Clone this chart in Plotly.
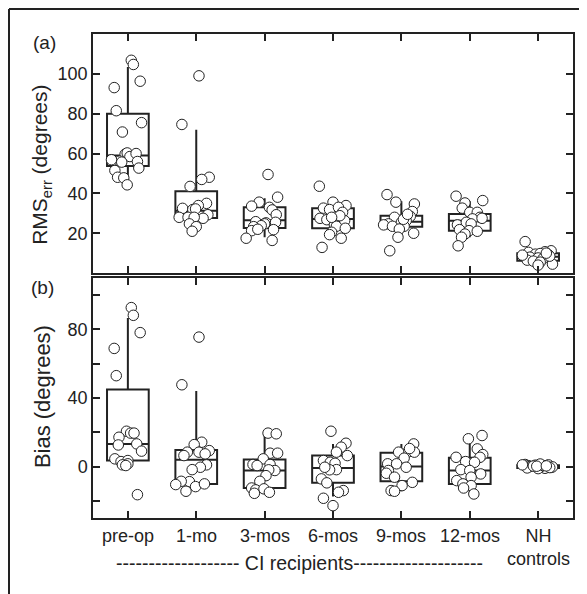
import plotly.graph_objects as go

# ---------------- data ----------------
categories = ["pre-op", "1-mo", "3-mos", "6-mos", "9-mos", "12-mos", "NH<br>controls"]

# RMS error box stats (degrees)
rms_lower = [44.0, 21.0, 18.0, 17.5, 18.0, 18.0, 4.0]
rms_q1 = [53.7, 27.7, 22.6, 22.5, 23.3, 21.3, 6.2]
rms_median = [59.0, 31.3, 26.5, 27.2, 25.8, 26.3, 8.2]
rms_q3 = [80.0, 41.1, 33.0, 32.6, 28.8, 29.7, 9.9]
rms_upper = [103.5, 72.0, 37.6, 36.0, 36.0, 36.0, 11.2]

# Bias box stats (degrees)
bias_lower = [0.6, -14.4, -15.6, -17.5, -14.4, -16.0, -2.0]
bias_q1 = [3.5, -10.1, -12.5, -9.5, -8.6, -10.1, -0.8]
bias_median = [13.2, 3.9, -2.3, -0.8, 0.0, -2.3, 0.0]
bias_q3 = [45.0, 9.7, 4.1, 6.4, 8.0, 5.1, 0.8]
bias_upper = [86.6, 44.0, 19.0, 13.2, 13.2, 16.2, 2.0]

# individual RMS values per group with horizontal jitter offsets (category units)
rms_points = [
    [106.8, 104.7, 96.3, 93.1, 81.5, 75.5, 70.8, 59.7, 60.3, 58.5, 60.0, 56.2, 55.7, 56.0, 52.7, 51.5, 48.1, 47.8, 44.3, 56.9],
    [99.0, 74.6, 48.1, 47.0, 43.5, 35.0, 33.9, 32.5, 31.9, 32.2, 29.3, 27.5, 28.0, 28.0, 28.0, 24.7, 23.3, 21.0],
    [49.5, 38.1, 35.6, 33.6, 33.0, 31.7, 29.3, 25.8, 25.2, 25.5, 24.7, 23.8, 23.3, 21.3, 21.8, 17.5, 16.4, 22.0],
    [43.6, 35.6, 33.9, 32.6, 31.9, 33.0, 30.5, 27.5, 26.8, 26.3, 24.2, 23.5, 22.5, 20.5, 19.3, 17.5, 12.9, 28.8, 28.0],
    [39.4, 35.6, 34.7, 30.9, 28.5, 28.0, 26.3, 25.5, 24.7, 24.2, 23.5, 23.5, 22.1, 20.0, 18.0, 11.2, 27.0, 29.5],
    [38.6, 35.2, 36.4, 32.6, 30.5, 30.5, 28.0, 27.2, 27.5, 24.2, 25.5, 24.7, 21.8, 21.3, 21.0, 19.6, 18.0, 13.7],
    [15.8, 10.4, 11.2, 10.7, 9.5, 9.8, 9.2, 8.0, 7.6, 7.2, 6.5, 6.0, 5.5, 4.5, 4.0, 8.5, 9.0, 10.0],
]
rms_jitter = [
    [0.05, 0.08, 0.18, -0.20, -0.17, 0.20, -0.08, -0.04, -0.01, 0.03, 0.12, -0.12, -0.09, 0.14, 0.16, -0.19, -0.15, -0.06, -0.01, -0.24],
    [0.04, -0.21, 0.19, 0.08, -0.09, 0.15, 0.03, -0.20, -0.05, -0.01, 0.17, 0.10, -0.25, -0.12, -0.03, -0.10, 0.00, -0.06],
    [0.05, 0.19, -0.08, -0.19, 0.07, 0.11, 0.17, -0.13, 0.02, 0.16, 0.00, -0.05, -0.16, -0.19, 0.13, -0.27, 0.11, -0.10],
    [-0.20, 0.00, 0.19, -0.14, -0.05, 0.08, 0.14, -0.19, -0.09, 0.17, 0.02, 0.05, 0.18, -0.02, -0.05, 0.12, -0.16, 0.10, -0.02],
    [-0.21, -0.08, 0.19, 0.16, 0.13, -0.10, 0.07, 0.00, -0.19, -0.26, -0.13, 0.04, -0.03, 0.18, -0.05, -0.17, 0.03, 0.09],
    [-0.20, -0.07, 0.19, -0.11, 0.00, 0.11, 0.15, 0.04, 0.18, -0.18, -0.05, 0.02, -0.15, -0.01, 0.11, -0.07, -0.12, -0.17],
    [-0.19, -0.14, 0.19, 0.10, -0.04, 0.03, 0.15, -0.12, 0.00, 0.07, -0.16, -0.07, 0.03, 0.21, 0.00, 0.17, -0.23, 0.12],
]

# individual Bias values per group with horizontal jitter offsets
bias_points = [
    [92.7, 88.2, 78.1, 68.9, 53.0, 20.6, 19.5, 19.5, 17.1, 13.2, 12.6, 9.0, 4.5, 2.9, 3.5, 1.6, 1.0, 0.6, -16.4],
    [75.5, 47.7, 14.2, 12.8, 9.3, 8.4, 8.4, 7.4, 6.4, 1.0, -0.4, -1.8, -8.8, -8.6, -11.7, -10.1, -10.5, -14.4],
    [19.5, 19.1, 7.8, 7.8, 4.5, 1.2, 0.6, 1.2, -2.3, -1.9, -5.3, -8.6, -12.5, -13.6, -13.0, -15.0, -15.6],
    [20.6, 13.6, 11.3, 6.4, 8.4, 3.5, 2.5, 1.9, -1.8, -1.9, -0.4, -7.2, -9.5, -14.0, -15.0, -18.5, -22.8],
    [13.2, 8.4, 8.4, 8.4, 4.9, 1.6, 1.6, -0.4, -2.3, -3.9, -6.2, -11.1, -9.2, -14.0, -14.4, 10.5],
    [18.1, 16.2, 10.3, 5.4, 7.0, 5.4, 2.9, 2.5, -1.8, -2.3, -4.3, -6.2, -8.2, -10.1, -11.1, -12.5, -16.0],
    [1.2, 0.5, -0.5, -1.0, 0.8, -0.3, 1.0, 0.0, -1.2, 0.6, -0.8, 0.3, 1.5, -0.2, 0.2, -0.6, 1.0, 0.4],
]
bias_jitter = [
    [0.05, 0.08, 0.18, -0.20, -0.17, -0.02, 0.04, 0.09, -0.13, 0.13, -0.14, 0.20, -0.19, -0.10, 0.00, 0.00, -0.08, -0.03, 0.14],
    [0.04, -0.21, 0.08, -0.03, 0.19, -0.13, 0.04, 0.13, -0.18, 0.15, 0.06, -0.06, -0.10, -0.22, -0.01, 0.12, -0.30, -0.15],
    [0.05, 0.17, 0.08, 0.19, -0.02, -0.17, -0.11, 0.08, 0.15, 0.06, 0.02, -0.07, -0.19, -0.13, -0.01, 0.07, -0.15],
    [-0.03, 0.19, 0.12, 0.21, 0.05, -0.14, -0.04, 0.03, 0.05, -0.05, -0.12, -0.17, -0.09, 0.15, 0.08, -0.14, 0.00],
    [0.18, 0.09, 0.19, -0.04, 0.04, -0.20, -0.07, 0.07, -0.19, -0.22, -0.10, 0.01, 0.16, -0.15, -0.10, 0.12],
    [0.18, -0.02, 0.11, -0.20, 0.19, 0.15, -0.06, 0.07, -0.13, 0.00, 0.16, 0.02, -0.19, -0.10, 0.02, -0.09, 0.06],
    [-0.19, -0.14, 0.19, 0.10, -0.04, 0.03, 0.15, -0.12, 0.00, 0.07, -0.16, -0.07, 0.03, 0.21, -0.02, 0.17, -0.23, 0.12],
]

rms_ticks = [20, 40, 60, 80, 100]
bias_ticks = [-20, 0, 20, 40, 60, 80, 100]
bias_ticklabels = ["", "0", "", "40", "", "80", ""]

# ---------------- style ----------------
INK = "#222222"
FONT = "Liberation Sans, Arial, Helvetica, sans-serif"
positions = list(range(len(categories)))

fig = go.Figure()

def add_panel(lower, q1, med, q3, upper, pts, jit, xa, ya):
    fig.add_trace(go.Box(
        x=positions, q1=q1, median=med, q3=q3, lowerfence=lower, upperfence=upper,
        width=0.61, whiskerwidth=0, boxpoints=False,
        line=dict(color=INK, width=2), fillcolor="rgba(0,0,0,0)",
        xaxis=xa, yaxis=ya, showlegend=False, hoverinfo="skip",
    ))
    xs, ys = [], []
    for i, (vals, offs) in enumerate(zip(pts, jit)):
        for v, o in zip(vals, offs):
            xs.append(i + o)
            ys.append(v)
    fig.add_trace(go.Scatter(
        x=xs, y=ys, mode="markers",
        marker=dict(size=10.5, color="white", line=dict(color=INK, width=1)),
        xaxis=xa, yaxis=ya, showlegend=False,
    ))

add_panel(rms_lower, rms_q1, rms_median, rms_q3, rms_upper, rms_points, rms_jitter, "x", "y")
add_panel(bias_lower, bias_q1, bias_median, bias_q3, bias_upper, bias_points, bias_jitter, "x2", "y2")

TICK_SIZE = 18
axis_common = dict(
    showline=True, linecolor=INK, linewidth=1.5, mirror="ticks",
    ticks="inside", ticklen=7, tickwidth=1.5, tickcolor=INK,
    showgrid=False, zeroline=False,
    tickfont=dict(family=FONT, size=TICK_SIZE, color=INK),
)

# the page body has an 8px default margin, so the figure is 8px smaller
fig.update_layout(
    width=579, height=586,
    margin=dict(l=85, r=14, t=26, b=76),
    paper_bgcolor="white", plot_bgcolor="white",
    font=dict(family=FONT, color=INK),
    boxmode="overlay",
    xaxis=dict(axis_common, domain=[0, 1], range=[-0.51, 6.51], tickvals=positions,
               showticklabels=False, anchor="y"),
    yaxis=dict(axis_common, domain=[0.506, 1], range=[0, 120], tickvals=rms_ticks, anchor="x"),
    xaxis2=dict(axis_common, domain=[0, 1], range=[-0.51, 6.51], tickvals=positions,
                showticklabels=False, anchor="y2"),
    yaxis2=dict(axis_common, domain=[0, 0.496], range=[-30, 110], tickvals=bias_ticks,
                ticktext=bias_ticklabels, anchor="x2"),
)

# category labels under the bottom panel
for pos, lab in zip(positions, categories):
    fig.add_annotation(text=lab, xref="x2", yref="paper", x=pos, y=-0.012,
                       showarrow=False, xanchor="center", yanchor="top", align="center",
                       font=dict(family=FONT, size=TICK_SIZE, color=INK))

ann_font = dict(family=FONT, size=19, color=INK)
fig.add_annotation(text="(a)", xref="paper", yref="paper", x=-0.102, y=0.983,
                   showarrow=False, xanchor="center", yanchor="middle", font=ann_font)
fig.add_annotation(text="(b)", xref="paper", yref="paper", x=-0.106, y=0.477,
                   showarrow=False, xanchor="center", yanchor="middle", font=ann_font)
fig.add_annotation(text="RMS<sub>err</sub> (degrees)", xref="paper", yref="paper",
                   x=-0.108, y=0.73, textangle=-90, showarrow=False,
                   xanchor="center", yanchor="middle", font=dict(family=FONT, size=21, color=INK))
fig.add_annotation(text="Bias (degrees)", xref="paper", yref="paper",
                   x=-0.106, y=0.25, textangle=-90, showarrow=False,
                   xanchor="center", yanchor="middle", font=dict(family=FONT, size=22, color=INK))
fig.add_annotation(text="------------------- CI recipients--------------------",
                   xref="paper", yref="paper", x=0.431, y=-0.093, showarrow=False,
                   xanchor="center", yanchor="middle", font=dict(family=FONT, size=19.5, color=INK))

# outer frame (top and left edges)
fig.add_shape(type="line", xref="paper", yref="paper", x0=-0.175, y0=1.0517, x1=1.03, y1=1.0517,
              line=dict(color=INK, width=2))
fig.add_shape(type="line", xref="paper", yref="paper", x0=-0.175, y0=1.0517, x1=-0.175, y1=-0.16,
              line=dict(color=INK, width=2))

fig.write_html("out.html")
